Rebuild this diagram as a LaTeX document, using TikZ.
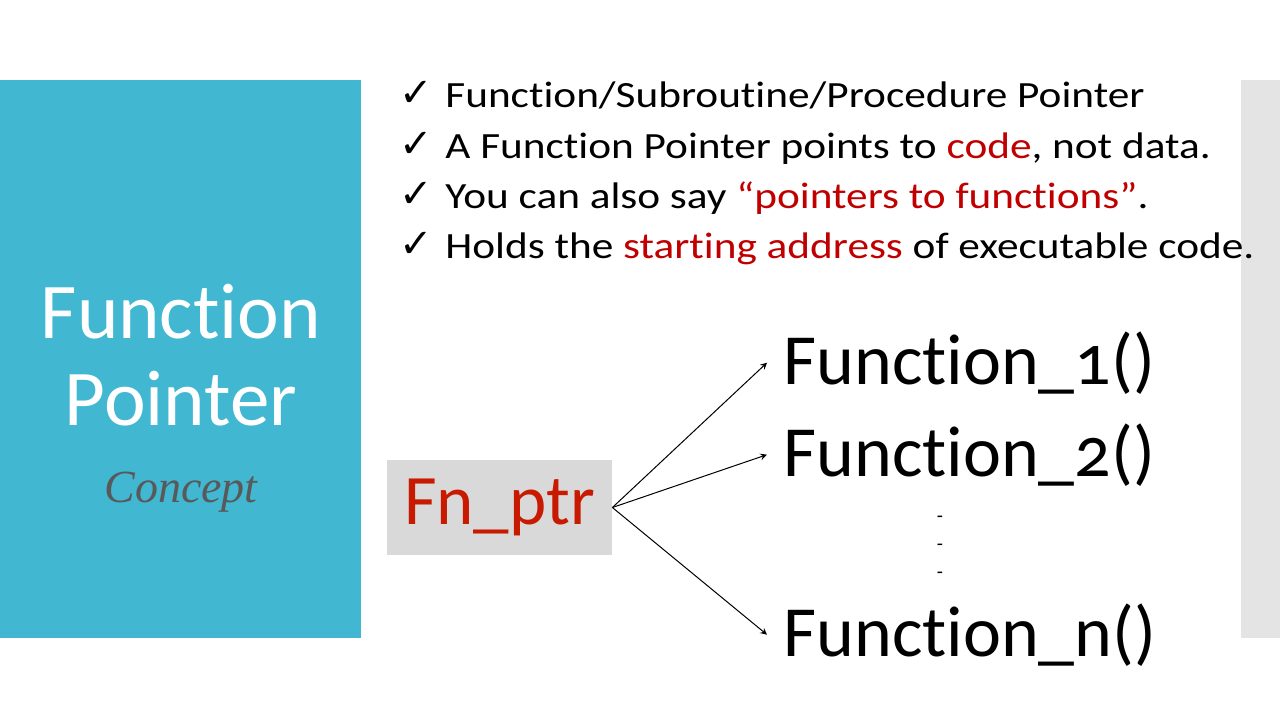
\documentclass[tikz,border=0pt]{standalone}
\usepackage{fontspec}
\setmainfont{Carlito}[Numbers=OldStyle, Ligatures=NoCommon]
\newfontfamily\bulletfont{Carlito}[Numbers=OldStyle, Ligatures=NoCommon, FakeStretch=1.17]
\newfontfamily\checkfont{DejaVu Sans}
\newfontfamily\conceptfont{Liberation Serif}
\usepackage{tikz}
\usepackage{xcolor}
\usetikzlibrary{shapes.geometric, arrows}
\definecolor{panelblue}{HTML}{41B7D2}
\definecolor{bargray}{HTML}{E4E4E4}
\definecolor{boxgray}{HTML}{D9D9D9}
\definecolor{hotred}{HTML}{C00000}
\definecolor{ptrred}{HTML}{C81A00}
\definecolor{conceptgray}{HTML}{595959}
\tikzstyle{title} = [anchor=base, inner sep=0pt, text=white, font=\fontsize{39.5}{43.5}\selectfont]
\tikzstyle{concept} = [anchor=base, inner sep=0pt, text=conceptgray, font=\conceptfont\itshape\fontsize{23}{26}\selectfont]
\tikzstyle{bullet} = [anchor=base west, inner sep=0pt, font=\bulletfont\fontsize{18.5}{22}\selectfont]
\tikzstyle{tick} = [anchor=base west, inner sep=0pt, font=\checkfont\fontsize{20}{22}\selectfont]
\tikzstyle{ptr} = [rectangle, minimum width=112.5pt, minimum height=47.5pt, fill=boxgray, text=ptrred, font=\fontsize{35.5}{38}\selectfont]
\tikzstyle{func} = [anchor=base west, inner xsep=8pt, inner ysep=0pt, font=\fontsize{36}{38}\selectfont]
\tikzstyle{dots} = [align=center, inner sep=0pt, font=\fontsize{10}{14}\selectfont]
\tikzstyle{arrow} = [->, >=stealth, black, line width=0.5pt]

\begin{document}
\begin{tikzpicture}[x=0.5pt, y=-0.5pt]
		\useasboundingbox (0,0) rectangle (1280,720);
		\fill [panelblue] (0,80) rectangle (361,638);
		\fill [bargray] (1241,80) rectangle (1280,638);
		
		\node (title1) [title] at (181,338) {Function};
		\node (title2) [title] at (181,425) {Pointer};
		\node (concept) [concept] at (181,502) {Concept};
		
		\node (tick1) [tick] at (399,106) {✓};
		\node (tick2) [tick] at (399,157) {✓};
		\node (tick3) [tick] at (399,207) {✓};
		\node (tick4) [tick] at (399,257) {✓};
		\node (item1) [bullet] at (445,107) {Function/Subroutine/Procedure Pointer};
		\node (item2) [bullet] at (445,158) {A Function Pointer points to \textcolor{hotred}{code}, not data.};
		\node (item3) [bullet] at (445,208) {You can also say \textcolor{hotred}{“pointers to functions”}.};
		\node (item4) [bullet] at (445,258) {Holds the \textcolor{hotred}{starting address} of executable code.};
		
		\node (fnptr) [ptr] at (499.5,507.5) {Fn\_ptr};
		\node (f1) [func] at (767,384) {Function\_1()};
		\node (f2) [func] at (767,476) {Function\_2()};
		\node (fn) [func] at (767,656) {Function\_n()};
		\node (dots) [dots] at (940,547) {-\\-\\-};
		
		\draw [arrow] (fnptr.east) -- (f1.west);
		\draw [arrow] (fnptr.east) -- (f2.west);
		\draw [arrow] (fnptr.east) -- (fn.west);
	\end{tikzpicture}
\end{document}
